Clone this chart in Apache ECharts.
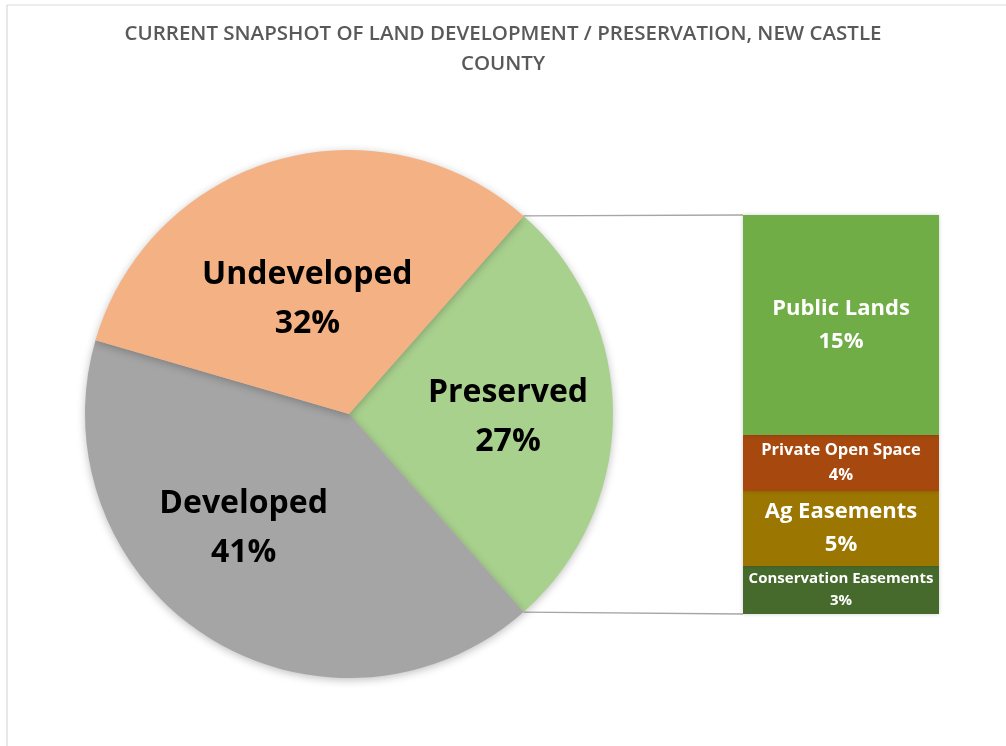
<!DOCTYPE html>
<html><head><meta charset="utf-8">
<script src="https://cdn.jsdelivr.net/npm/echarts@6/dist/echarts.min.js"></script>
<style>html,body{margin:0;padding:0;background:#fff}#c{width:1006px;height:746px}</style>
</head><body><div id="c"></div>
<script>
const titleText = 'CURRENT SNAPSHOT OF LAND DEVELOPMENT / PRESERVATION, NEW CASTLE\nCOUNTY';
const pieNames = ['Preserved', 'Developed', 'Undeveloped'];
const pieValues = [27, 41, 32];
const pieColors = ['#a9d18e', '#a5a5a5', '#f4b183'];
const barNames = ['Conservation Easements', 'Ag Easements', 'Private Open Space', 'Public Lands'];
const barValues = [3.24, 5.06, 3.78, 14.85];
const barColors = ['#466a2c', '#9b7600', '#a7490f', '#70ad47'];

const FONT = '"Open Sans", sans-serif';
const pieCenter = [349, 414];
const pieRadius = 264;
const pieTotal = pieValues.reduce((a, b) => a + b, 0);
const startAngle = pieValues[0] / pieTotal * 360 / 2;
const barTotal = barValues.reduce((a, b) => a + b, 0);

const pieLabelShift = [[12, 1.5], [-16.5, 0], [-2, 7.5]];
const barLabelStyle = [
  {fontSize: 15, lineHeight: 22},
  {fontSize: 22, lineHeight: 33},
  {fontSize: 16.5, lineHeight: 25},
  {fontSize: 22, lineHeight: 33}
];

const chart = echarts.init(document.getElementById('c'), null, {renderer: 'canvas'});

const option = {
  animation: false,
  backgroundColor: '#ffffff',
  title: {
    text: titleText,
    left: 'center',
    top: 14,
    textStyle: {fontFamily: FONT, fontSize: 20.5, fontWeight: 600, color: '#595959', lineHeight: 30}
  },
  grid: {left: 743, top: 215, width: 196, height: 399, containLabel: false},
  xAxis: {type: 'category', data: ['Preserved'], show: false},
  yAxis: {type: 'value', min: 0, max: barTotal, show: false},
  series: [
    {
      type: 'pie',
      center: pieCenter,
      radius: pieRadius,
      startAngle: startAngle,
      clockwise: true,
      silent: true,
      data: pieNames.map((n, i) => ({name: n, value: pieValues[i], itemStyle: {color: pieColors[i]}})),
      itemStyle: {borderWidth: 0, shadowBlur: 8, shadowColor: 'rgba(0,0,0,0.25)', shadowOffsetY: 2},
      label: {
        show: true,
        position: 'inside',
        formatter: p => p.name + '\n' + p.value + '%',
        fontFamily: FONT, fontSize: 32, fontWeight: 700, color: '#000', lineHeight: 49, align: 'center'
      },
      labelLayout: p => ({dx: pieLabelShift[p.dataIndex][0], dy: pieLabelShift[p.dataIndex][1]}),
      labelLine: {show: false}
    }
  ].concat(barNames.map((n, i) => ({
    type: 'bar',
    name: n,
    stack: 'preserved',
    barWidth: '100%',
    data: [barValues[i]],
    itemStyle: {color: barColors[i], shadowBlur: 4, shadowColor: 'rgba(0,0,0,0.2)'},
    label: {
      show: true,
      position: 'inside',
      formatter: p => p.seriesName + '\n' + Math.round(p.value) + '%',
      fontFamily: FONT, fontWeight: 700, color: '#ffffff',
      fontSize: barLabelStyle[i].fontSize, lineHeight: barLabelStyle[i].lineHeight
    },
    silent: true
  })))
};
chart.setOption(option);

// connector lines from pie edge to bar corners
const a = startAngle * Math.PI / 180;
const px = pieCenter[0] + pieRadius * Math.cos(a);
const pyTop = pieCenter[1] - pieRadius * Math.sin(a);
const pyBot = pieCenter[1] + pieRadius * Math.sin(a);
const barLeft = chart.convertToPixel({gridIndex: 0}, ['Preserved', 0])[0] - 196 / 2;
const barTopY = chart.convertToPixel({yAxisIndex: 0}, barTotal);
const barBotY = chart.convertToPixel({yAxisIndex: 0}, 0);
chart.setOption({
  graphic: [
    {type: 'rect', shape: {x: 7, y: 5, width: 1100, height: 800}, style: {fill: 'none', stroke: '#d9d9d9', lineWidth: 1.2}, silent: true, z: -10},
    {type: 'line', shape: {x1: px, y1: pyTop, x2: barLeft, y2: barTopY}, style: {stroke: '#a6a6a6', lineWidth: 1.3}, silent: true, z: 1},
    {type: 'line', shape: {x1: px, y1: pyBot, x2: barLeft, y2: barBotY}, style: {stroke: '#a6a6a6', lineWidth: 1.3}, silent: true, z: 1}
  ]
});
</script></body></html>
